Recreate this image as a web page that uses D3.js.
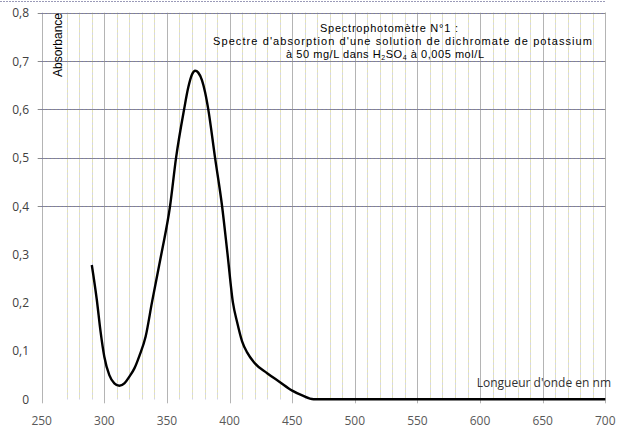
<!DOCTYPE html>
<html><head><meta charset="utf-8">
<script src="https://cdn.jsdelivr.net/npm/d3@7"></script>
<style>body{margin:0;background:#fff}svg{display:block}</style>
</head><body>
<script>
const wavelengths = [290,294,297,300,304,308,312,316,320,324,328,333,338,345.5,352.5,357.3,363.7,367,370,372.5,375,378,380.5,383,388.4,394,398.4,402.7,406,410,414,420,430,440,450,458,467,700];
const absorbance = [0.278,0.206,0.14,0.088,0.05,0.033,0.028,0.033,0.047,0.064,0.09,0.13,0.2,0.3,0.4,0.5,0.6,0.645,0.672,0.68,0.676,0.66,0.635,0.6,0.5,0.4,0.3,0.2,0.16,0.12,0.097,0.075,0.054,0.036,0.018,0.008,0,0];
const xTicks = [250,300,350,400,450,500,550,600,650,700];
const yTicks = [0,0.1,0.2,0.3,0.4,0.5,0.6,0.7,0.8];
const yTickLabels = ["0","0,1","0,2","0,3","0,4","0,5","0,6","0,7","0,8"];
const hGrid = [0.4,0.5,0.6,0.7,0.8];
const vGrid = [250].concat(d3.range(270,701,10));
const titleLines = ["Spectrophotomètre N°1 :","Spectre d'absorption  d'une solution de dichromate de potassium"];
const xTitle = "Longueur d'onde en nm";
const yTitle = "Absorbance";

const W=621,H=430;
const svg=d3.select("body").append("svg").attr("width",W).attr("height",H);
svg.append("rect").attr("width",W).attr("height",H).attr("fill","#fff");
const x=d3.scaleLinear().domain([250,700]).range([41.7,605.3]);
const y=d3.scaleLinear().domain([0,0.8]).range([399.3,12.7]);

svg.append("line").attr("x1",0).attr("x2",606).attr("y1",1.5).attr("y2",1.5)
  .attr("stroke","#9a9ab8").attr("stroke-width",1).attr("stroke-dasharray","2,1");

vGrid.forEach(v=>{
  const major = v%50===0;
  const px=Math.round(x(v))+0.5;
  if(major){
    svg.append("line").attr("x1",px).attr("x2",px).attr("y1",y(0.8)).attr("y2",y(0)+4)
      .attr("stroke","#b4b4b4").attr("stroke-width",1);
  } else {
    svg.append("line").attr("x1",px).attr("x2",px).attr("y1",y(0.8)).attr("y2",y(0))
      .attr("stroke","#e4e4b4").attr("stroke-width",1);
    svg.append("line").attr("x1",px).attr("x2",px).attr("y1",y(0.8)).attr("y2",y(0))
      .attr("stroke","#d0d0f4").attr("stroke-width",1).attr("stroke-dasharray","2,3");
  }
});
svg.append("line").attr("x1",605.5).attr("x2",605.5).attr("y1",y(0.8)).attr("y2",y(0))
  .attr("stroke","#b4b4b4");

hGrid.forEach(v=>{
  const py=Math.round(y(v))+0.5;
  svg.append("line").attr("x1",x(250)-4).attr("x2",x(700)).attr("y1",py).attr("y2",py)
    .attr("stroke","#8a8a8a").attr("stroke-width",1);
  svg.append("line").attr("x1",x(250)).attr("x2",x(700)).attr("y1",py).attr("y2",py)
    .attr("stroke","#7070c0").attr("stroke-width",1).attr("stroke-dasharray","1,3");
});

svg.selectAll(".yl").data(yTicks).enter().append("text")
  .attr("x",29).attr("y",d=>y(d)+4.5).attr("text-anchor","end")
  .attr("font-family","Open Sans").attr("font-size",12).attr("fill","#404040")
  .text((d,i)=>yTickLabels[i]);
svg.selectAll(".xl").data(xTicks).enter().append("text")
  .attr("x",d=>x(d)).attr("y",425).attr("text-anchor","middle")
  .attr("font-family","Open Sans").attr("font-size",12).attr("fill","#595959")
  .text(d=>d);

const line=d3.line().x((d,i)=>x(wavelengths[i])).y(d=>y(d)).curve(d3.curveMonotoneX);
svg.append("path").attr("d",line(absorbance)).attr("fill","none")
  .attr("stroke","#000").attr("stroke-width",2.4).attr("stroke-linejoin","round");

const tf="Liberation Sans";
svg.append("text").attr("x",320).attr("y",32)
  .attr("font-family",tf).attr("font-size",11).attr("fill","#000")
  .attr("textLength",138).attr("lengthAdjust","spacing").text(titleLines[0]);
svg.append("text").attr("x",213).attr("y",45)
  .attr("font-family",tf).attr("font-size",11).attr("fill","#000")
  .attr("textLength",379).attr("lengthAdjust","spacing").text(titleLines[1]);
const t3=svg.append("text").attr("x",286).attr("y",58)
  .attr("font-family",tf).attr("font-size",11).attr("fill","#000")
  .attr("letter-spacing",0.55);
t3.append("tspan").text("à 50 mg/L dans H");
t3.append("tspan").attr("font-size",7).attr("dy",2).text("2");
t3.append("tspan").attr("dy",-2).text("SO");
t3.append("tspan").attr("font-size",7).attr("dy",2).text("4");
t3.append("tspan").attr("dy",-2).text(" à 0,005 mol/L");

svg.append("text").attr("x",611).attr("y",387).attr("text-anchor","end")
  .attr("font-family","Open Sans").attr("font-size",12).attr("fill","#303030").text(xTitle);
svg.append("text").attr("transform","translate(62,13) rotate(-90)").attr("text-anchor","end")
  .attr("font-family",tf).attr("font-size",12).attr("fill","#000").text(yTitle);
</script>
</body></html>
